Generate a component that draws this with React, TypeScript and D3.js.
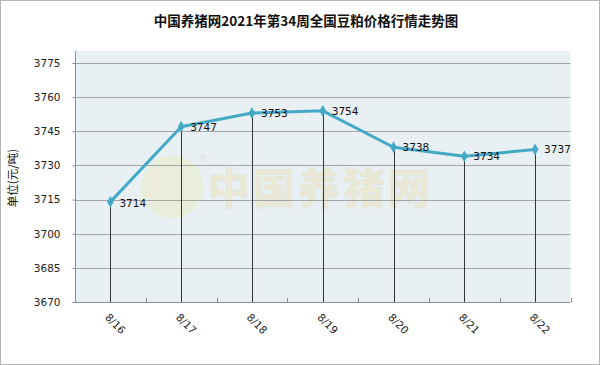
import React, { useEffect, useRef } from 'react';
import * as d3 from 'd3';

const categories = ['8/16', '8/17', '8/18', '8/19', '8/20', '8/21', '8/22'];
const prices = [3714, 3747, 3753, 3754, 3738, 3734, 3737];
const yTicks = [3670, 3685, 3700, 3715, 3730, 3745, 3760, 3775];

const W = 600;
const H = 365;

export default function App() {
  const svgRef = useRef<SVGSVGElement>(null);

  useEffect(() => {
    document.body.style.margin = '0';
    if (!svgRef.current) return;
    const svg = d3.select(svgRef.current);
    svg.selectAll('*').remove();

    const left = 75, right = 570.5, top = 51, bottom = 302;

    const x = d3.scaleBand().domain(categories).range([left, right]);
    const y = d3.scaleLinear().domain([3670, 3775]).range([bottom, 63]);

    // frame
    svg.append('rect')
      .attr('x', 0.5).attr('y', 0.5)
      .attr('width', W - 1).attr('height', H - 1)
      .attr('fill', '#fff').attr('stroke', '#b4b4b4');

    // title
    svg.append('text')
      .attr('x', 306).attr('y', 26)
      .attr('text-anchor', 'middle')
      .attr('font-family', '"Noto Sans CJK SC", sans-serif')
      .attr('font-size', 13.5).attr('font-weight', 'bold')
      .attr('fill', '#111')
      .text('中国养猪网2021年第34周全国豆粕价格行情走势图');

    // plot background
    svg.append('rect')
      .attr('x', left).attr('y', top)
      .attr('width', right - left).attr('height', bottom - top)
      .attr('fill', '#e9f0f4');

    // watermark (faint logo)
    const wm = svg.append('g').attr('opacity', 0.3);
    wm.append('circle').attr('cx', 172).attr('cy', 187).attr('r', 29)
      .attr('fill', '#f3e3a6').attr('stroke', '#e4ef9a').attr('stroke-width', 4);
    wm.append('text').attr('x', 208).attr('y', 204)
      .attr('font-family', '"Noto Sans CJK SC", sans-serif')
      .attr('font-size', 42).attr('font-weight', 'bold')
      .attr('fill', '#f1d98a').attr('stroke', '#d8d0a8').attr('stroke-width', 1)
      .attr('letter-spacing', 3)
      .text('中国养猪网');
    wm.append('text').attr('x', 199).attr('y', 162)
      .attr('font-family', 'sans-serif').attr('font-size', 11)
      .attr('fill', '#d9b890').text('®');

    // gridlines
    svg.append('g').selectAll('line').data(yTicks.slice(1)).enter().append('line')
      .attr('x1', left).attr('x2', right)
      .attr('y1', d => Math.round(y(d)) + 0.5).attr('y2', d => Math.round(y(d)) + 0.5)
      .attr('stroke', '#a6a6a6').attr('stroke-width', 1.2);

    // y axis
    const yAxis = svg.append('g')
      .attr('transform', `translate(${left + 0.5},0)`)
      .call(d3.axisLeft(y).tickValues(yTicks).tickFormat(d3.format('d')).tickSize(3).tickSizeOuter(0));
    yAxis.select('.domain').attr('stroke', '#8c8c8c').attr('d', `M0,${top}V${bottom}`);
    yAxis.selectAll('.tick line').attr('stroke', '#8c8c8c');
    yAxis.selectAll('.tick text')
      .attr('font-family', '"DejaVu Sans", sans-serif')
      .attr('font-size', 10.5).attr('fill', '#222').attr('x', -15);

    // x axis: band edges as ticks
    const edges = categories.map(c => x(c) as number).concat([right]);
    svg.append('line')
      .attr('x1', left).attr('x2', right)
      .attr('y1', bottom + 0.5).attr('y2', bottom + 0.5)
      .attr('stroke', '#8c8c8c');
    svg.append('g').selectAll('line').data(edges).enter().append('line')
      .attr('x1', d => Math.round(d) + 0.5).attr('x2', d => Math.round(d) + 0.5)
      .attr('y1', bottom - 4).attr('y2', bottom)
      .attr('stroke', '#8c8c8c');

    const cx = (c: string) => (x(c) as number) + x.bandwidth() / 2;

    // drop lines
    svg.append('g').selectAll('line').data(categories).enter().append('line')
      .attr('x1', d => Math.round(cx(d)) + 0.5).attr('x2', d => Math.round(cx(d)) + 0.5)
      .attr('y1', (d, i) => y(prices[i])).attr('y2', bottom)
      .attr('stroke', '#333').attr('stroke-width', 1);

    // line
    const line = d3.line<number>()
      .x((d, i) => cx(categories[i]))
      .y(d => y(d));
    svg.append('path')
      .datum(prices)
      .attr('d', line)
      .attr('fill', 'none')
      .attr('stroke', '#45a9c6').attr('stroke-width', 3)
      .attr('stroke-linejoin', 'round');

    // markers
    svg.append('g').selectAll('path').data(prices).enter().append('path')
      .attr('d', d3.symbol().type(d3.symbolDiamond).size(40))
      .attr('transform', (d, i) => `translate(${cx(categories[i])},${y(d)})`)
      .attr('fill', '#45a9c6');

    // data labels
    svg.append('g').selectAll('text').data(prices).enter().append('text')
      .attr('x', (d, i) => cx(categories[i]) + 9)
      .attr('y', (d, i) => y(d) + (i === 0 ? 5 : 4))
      .attr('font-family', '"DejaVu Sans", sans-serif')
      .attr('font-size', 10.5).attr('fill', '#111')
      .text(d => String(d));

    // x labels
    svg.append('g').selectAll('text').data(categories).enter().append('text')
      .attr('transform', d => `translate(${cx(d) - 6},${318}) rotate(45)`)
      .attr('font-family', '"DejaVu Sans", sans-serif')
      .attr('font-size', 10.5).attr('fill', '#222')
      .text(d => d);

    // y title
    svg.append('text')
      .attr('transform', `translate(17,${178}) rotate(-90)`)
      .attr('text-anchor', 'middle')
      .attr('font-family', '"Noto Sans CJK SC", serif')
      .attr('font-size', 11.5).attr('fill', '#111')
      .text('单位(元/吨)');
  }, []);

  return (
    <svg ref={svgRef} width={W} height={H}
      style={{ position: 'absolute', left: 0, top: 0, display: 'block' }} />
  );
}
